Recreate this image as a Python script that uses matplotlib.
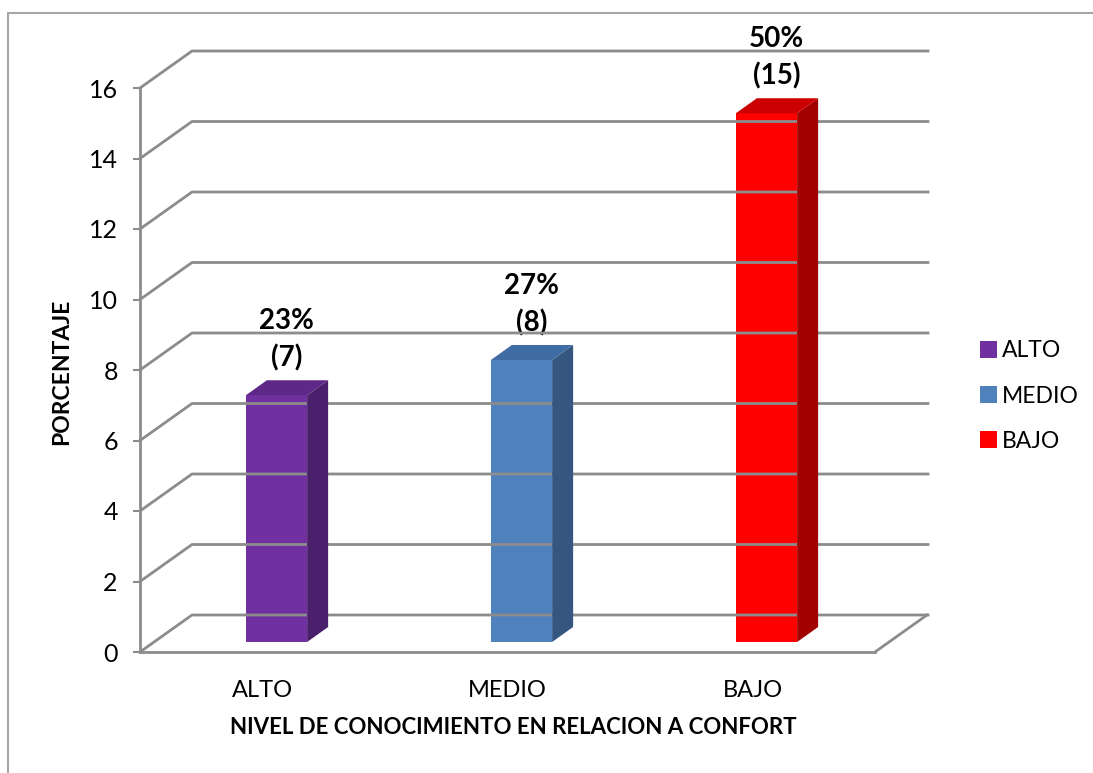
import matplotlib
matplotlib.use("Agg")
import matplotlib.pyplot as plt
import numpy as np
from matplotlib.lines import Line2D
from matplotlib.patches import Polygon, Rectangle
from matplotlib.transforms import IdentityTransform, offset_copy

# ---- data ----
categories = ["ALTO", "MEDIO", "BAJO"]
counts = [7, 8, 15]
percent_labels = ["23%", "27%", "50%"]
yticks = [0, 2, 4, 6, 8, 10, 12, 14, 16]

front_colors = ["#7030A0", "#4F81BD", "#FF0000"]
side_colors = ["#4A1F6B", "#34567F", "#A30000"]
top_colors = ["#5D2888", "#3F6CA2", "#CC0000"]

plt.rcParams['font.family'] = ['Lato', 'DejaVu Sans']

W, H = 1093, 773
fig = plt.figure(figsize=(W / 100, H / 100), dpi=100)
fig.patch.set_facecolor("white")

ax = fig.add_axes([140 / W, (H - 652) / H, 735 / W, 564 / H])
ax.set_xlim(-0.5, 2.5)
ax.set_ylim(0, 16)
ax.set_autoscale_on(False)
ax.patch.set_visible(False)
for s in ["top", "right"]:
    ax.spines[s].set_visible(False)
grid_c = "#8C8C8C"
for s in ["left", "bottom"]:
    ax.spines[s].set_color(grid_c)
    ax.spines[s].set_linewidth(2)
ax.set_yticks(yticks)
ax.set_yticklabels([str(v) for v in yticks], fontsize=18)
ax.tick_params(axis="y", length=5, width=1.5, color=grid_c, pad=11)
ax.set_xticks(range(len(categories)))
ax.set_xticklabels(categories, fontsize=17)
ax.tick_params(axis="x", length=0, pad=20)

# depth offsets (pixels)
DX, DY = 52, 37
fig.canvas.draw()
T = ax.transData

# back wall gridlines + left diagonals
xl, xr = ax.get_xlim()
for y in yticks:
    p0 = T.transform((xl, y))
    p_end = T.transform((xr, y))
    xs = [p0[0], p0[0] + DX, p_end[0] + DX + 1]
    ys = [p0[1], p0[1] + DY, p0[1] + DY]
    fig.add_artist(Line2D(xs, ys, transform=IdentityTransform(), color=grid_c, lw=2, zorder=1))
# floor right diagonal
p = T.transform((xr, 0))
fig.add_artist(Line2D([p[0], p[0] + DX], [p[1], p[1] + DY], transform=IdentityTransform(),
                      color=grid_c, lw=2, zorder=1))

# bars (front face offset into the depth)
BW = 0.25
FX, FY = 14, 10
SX, SY = 21, 15
ftrans = offset_copy(T, fig=fig, x=FX, y=FY, units="dots")
for i, (cat, h) in enumerate(zip(categories, counts)):
    ax.bar(i, h, width=BW, color=front_colors[i], transform=ftrans, label=cat,
           clip_on=False, zorder=3, linewidth=0)
    bl = T.transform((i - BW / 2, 0)) + (FX, FY)
    br = T.transform((i + BW / 2, 0)) + (FX, FY)
    tl = T.transform((i - BW / 2, h)) + (FX, FY)
    tr = T.transform((i + BW / 2, h)) + (FX, FY)
    side = Polygon([br, tr, tr + (SX, SY), br + (SX, SY)], closed=True,
                   transform=IdentityTransform(), fc=side_colors[i], ec="none", zorder=3)
    top = Polygon([tl, tr, tr + (SX, SY), tl + (SX, SY)], closed=True,
                  transform=IdentityTransform(), fc=top_colors[i], ec="none", zorder=3)
    fig.add_artist(side)
    fig.add_artist(top)
    ax.annotate(percent_labels[i], xy=(i, h), xytext=(24, 84), textcoords="offset pixels",
                ha="center", va="center", fontsize=20, fontweight="bold", zorder=5)
    ax.annotate(f"({h})", xy=(i, h), xytext=(24, 47), textcoords="offset pixels",
                ha="center", va="center", fontsize=20, fontweight="bold", zorder=5)

# axis titles
fig.text(62 / W, 1 - 372 / H, "PORCENTAJE", rotation=90, ha="center", va="center",
         fontsize=16.5, fontweight="bold")
fig.text(513 / W, 1 - 727 / H, "NIVEL DE CONOCIMIENTO EN RELACION A CONFORT",
         ha="center", va="center", fontsize=16, fontweight="bold")

# legend
leg = ax.legend(loc="center left", bbox_to_anchor=(980 / W, 1 - 396 / H),
                bbox_transform=fig.transFigure, frameon=False, fontsize=16.5,
                handlelength=0.75, handleheight=0.75, handletextpad=0.2,
                labelspacing=1.05, borderpad=0, borderaxespad=0)

# outer chart border
fig.add_artist(Rectangle((8 / W, -0.1), 1.2, (H - 13) / H + 0.1, transform=fig.transFigure,
                         fill=False, ec="#A6A6A6", lw=1.5))

fig.savefig("out.png", dpi=100)
